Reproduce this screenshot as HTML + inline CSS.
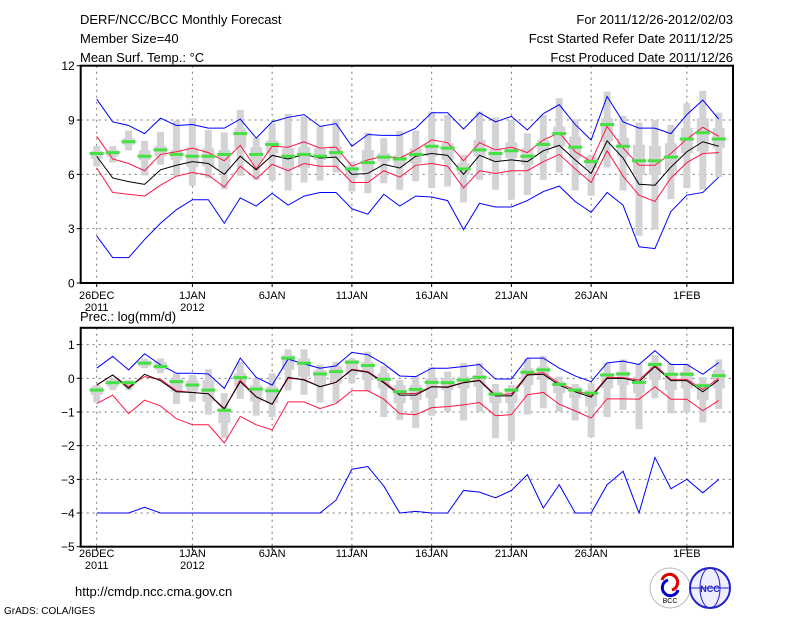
<!DOCTYPE html>
<html><head><meta charset="utf-8"><style>
html,body{margin:0;padding:0;background:#fff;}
svg{display:block;font-family:"Liberation Sans",sans-serif;}
</style></head><body>
<svg id="chart" width="800" height="618" viewBox="0 0 800 618" xmlns="http://www.w3.org/2000/svg">
<g font-size="13" fill="#000">
<text x="80" y="24">DERF/NCC/BCC Monthly Forecast</text>
<text x="80" y="43">Member Size=40</text>
<text x="80" y="62">Mean Surf. Temp.: °C</text>
<text x="733" y="24" text-anchor="end">For 2011/12/26-2012/02/03</text>
<text x="733" y="43" text-anchor="end">Fcst Started Refer Date 2011/12/25</text>
<text x="733" y="62" text-anchor="end">Fcst Produced Date 2011/12/26</text>
<text x="80" y="321">Prec.: log(mm/d)</text>
<text x="75" y="596">http://cmdp.ncc.cma.gov.cn</text>
<text x="4" y="614" font-size="10">GrADS: COLA/IGES</text>
</g>
<g>
<circle cx="670" cy="588" r="20" fill="#fff" stroke="#bbb"/>
<path d="M662 580 a8 8 0 1 1 10 10" fill="none" stroke="#d00" stroke-width="3"/>
<path d="M678 590 a8 8 0 1 1 -10 -10" fill="none" stroke="#00c" stroke-width="3"/>
<text x="670" y="603" font-size="7" text-anchor="middle" fill="#000">BCC</text>
<circle cx="710" cy="588" r="20" fill="#eef" stroke="#22c" stroke-width="2"/>
<ellipse cx="710" cy="588" rx="10" ry="20" fill="none" stroke="#22c"/>
<line x1="690" y1="588" x2="730" y2="588" stroke="#22c"/>
<text x="710" y="592" font-size="9" text-anchor="middle" fill="#22c" font-weight="bold">NCC</text>
</g>
<g id="top"></g>
<g id="bot"></g>
</svg>
<script>
const days = 40;
const dateTicks = ["26DEC","1JAN","6JAN","11JAN","16JAN","21JAN","26JAN","1FEB"];
const dateTickDays = [0,6,11,16,21,26,31,37];
const yearLabels = ["2011","2012"];
const tTicks = [0,3,6,9,12];
const tBlueHi=[10.15,8.9,8.7,8.25,9.1,8.7,8.75,8.55,8.55,9.05,8.0,8.9,9.15,9.3,8.65,8.8,7.55,8.2,8.15,8.15,8.55,9.4,9.4,8.5,9.4,8.9,9.2,8.45,9.35,9.85,8.75,7.9,10.3,8.9,8.55,8.55,8.25,9.3,10.1,9.05];
const tBlueLo=[2.6,1.4,1.4,2.4,3.3,4.05,4.6,4.6,3.3,4.7,4.25,4.95,4.3,4.8,5.0,5.0,4.1,3.8,4.9,4.25,4.8,4.75,4.55,2.95,4.4,4.2,4.2,4.55,5.05,5.35,4.5,3.9,5.0,4.3,2.0,1.9,3.95,4.85,5.0,5.85];
const tRedHi=[8.1,6.85,6.6,6.2,7.1,7.25,7.45,7.2,6.75,7.6,6.3,7.55,7.5,7.8,7.45,7.5,6.45,6.8,7.0,6.9,7.35,7.9,7.75,6.75,7.75,7.35,7.5,7.2,7.9,8.3,7.25,6.7,8.65,7.45,6.5,6.5,7.15,7.95,8.6,8.1];
const tRedLo=[6.35,5.0,4.9,4.8,5.4,5.9,6.1,5.95,5.3,6.45,5.75,6.55,6.2,6.6,6.45,6.45,5.55,5.55,6.2,5.85,6.5,6.6,6.45,5.25,6.2,6.05,6.2,6.2,6.7,7.1,6.3,5.55,7.3,5.9,4.85,4.5,5.8,6.65,7.15,7.2];
const tMean=[7.0,5.8,5.6,5.45,6.25,6.5,6.7,6.6,6.0,7.0,6.25,7.05,6.85,7.1,6.9,6.95,6.0,6.05,6.55,6.35,7.0,7.15,7.05,6.0,7.05,6.7,6.8,6.7,7.3,7.6,6.8,6.05,7.85,6.9,5.45,5.4,6.4,7.25,7.8,7.55];
const tObs=[7.15,7.2,7.8,7.0,7.35,7.1,7.0,7.0,7.1,8.25,7.1,7.65,7.0,7.1,7.0,7.2,6.3,6.65,6.95,6.85,7.1,7.55,7.45,6.3,7.35,7.15,7.3,7.0,7.65,8.25,7.5,6.7,8.75,7.55,6.75,6.75,6.95,7.95,8.3,7.95];
const tWhHi=[7.57,7.57,8.42,7.85,8.35,8.97,9.1,8.46,8.31,9.56,8.0,8.82,9.34,9.19,8.64,9.04,6.71,8.31,8.0,8.4,8.42,9.47,9.28,7.08,9.47,9.15,9.0,8.27,9.28,10.2,9.04,7.08,10.57,9.23,8.86,9.0,8.73,9.93,10.61,9.41];
const tWhLo=[6.43,6.65,7.32,5.94,6.53,5.88,5.37,5.79,5.18,5.92,5.7,5.66,5.11,5.55,5.66,6.1,5.06,4.96,5.51,5.15,5.61,5.24,5.33,4.45,5.7,5.15,4.6,4.87,5.7,6.1,5.11,4.82,6.38,5.11,2.61,2.94,4.63,5.24,5.15,5.85];
const tBoxHi=[7.3,7.35,8.0,7.32,7.57,7.35,7.5,7.44,7.35,8.55,7.5,7.87,7.44,7.5,7.44,7.54,6.43,7.35,7.17,7.08,7.44,7.63,7.72,6.62,7.9,7.44,7.76,7.44,7.9,8.64,8.09,6.99,9.1,8.0,7.63,7.57,7.72,8.55,9.1,8.55];
const tBoxLo=[6.86,6.99,7.63,6.8,6.99,6.8,6.4,6.43,6.25,7.44,6.71,7.17,6.34,6.34,6.8,6.89,5.79,6.16,6.71,6.43,6.62,6.99,6.8,5.97,6.99,6.71,6.89,6.53,7.17,7.54,6.89,6.34,7.81,6.99,5.97,5.97,6.16,7.17,7.26,7.44];
const bTicks = [-5,-4,-3,-2,-1,0,1];
const bBlueHi=[0.3,0.65,0.25,0.73,0.4,0.15,0.15,0.13,-0.3,0.6,0.03,-0.2,0.57,0.43,0.3,0.37,0.77,0.7,0.43,0.07,0.05,0.3,0.3,0.35,0.41,-0.02,-0.02,0.6,0.6,0.3,0.07,-0.1,0.46,0.51,0.41,0.82,0.41,0.41,0.12,0.47];
const bBlueLo=[-4,-4,-4,-3.83,-4,-4,-4,-4,-4,-4,-4,-4,-4,-4,-4,-3.62,-2.7,-2.62,-3.2,-4,-3.95,-4,-4,-3.33,-3.38,-3.55,-3.33,-2.86,-3.85,-3.16,-4,-4,-3.16,-2.76,-4,-2.35,-3.28,-3.0,-3.4,-3.0];
const bRedHi=[-0.2,0.1,-0.25,0.05,-0.03,-0.37,-0.42,-0.46,-0.93,-0.05,-0.55,-0.77,0,-0.03,-0.25,-0.12,0.27,0.2,-0.1,-0.45,-0.45,-0.25,-0.25,-0.12,-0.05,-0.49,-0.46,0.12,0.17,-0.15,-0.35,-0.52,0.03,0.02,-0.05,0.39,-0.03,-0.03,-0.33,0];
const bRedLo=[-0.75,-0.5,-1.05,-0.65,-0.82,-1.2,-1.38,-1.38,-1.92,-1.13,-1.38,-1.53,-0.7,-0.7,-0.9,-0.75,-0.37,-0.37,-0.62,-1.05,-1.08,-0.87,-0.84,-0.79,-0.72,-1.11,-1.08,-0.49,-0.42,-0.77,-0.97,-1.18,-0.61,-0.61,-0.62,-0.25,-0.62,-0.62,-0.96,-0.66];
const bMean=[-0.2,0.1,-0.3,0.12,-0.07,-0.4,-0.42,-0.46,-0.9,-0.1,-0.55,-0.77,0.03,-0.05,-0.25,-0.12,0.25,0.18,-0.13,-0.5,-0.5,-0.25,-0.27,-0.13,-0.07,-0.52,-0.52,0.1,0.12,-0.2,-0.4,-0.56,0,0,-0.1,0.35,-0.07,-0.07,-0.4,-0.05];
const bObs=[-0.35,-0.13,-0.13,0.45,0.35,-0.1,-0.2,-0.35,-0.95,0.02,-0.32,-0.37,0.6,0.45,0.13,0.2,0.48,0.38,-0.03,-0.4,-0.33,-0.12,-0.13,-0.05,0.03,-0.47,-0.35,0.18,0.25,-0.18,-0.35,-0.44,0.1,0.13,-0.12,0.41,0.12,0.12,-0.22,0.08];
const bWhHi=[-0.2,0,-0.05,0.59,0.59,0.15,0.1,0.27,-0.44,0.49,0,0.15,0.86,0.86,0.41,0.49,0.59,0.79,0.36,-0.05,0.07,0.33,0.2,0.46,0.46,-0.17,-0.2,0.59,0.66,0.05,-0.17,-0.15,0.46,0.56,0.44,0.69,0.44,0.44,0.03,0.56];
const bWhLo=[-0.72,-0.35,-0.35,0.3,0.15,-0.76,-0.69,-1.08,-1.78,-0.61,-1.11,-1.15,-0.36,-0.49,-0.72,-0.72,-0.15,-0.39,-1.15,-1.23,-1.48,-1.11,-0.99,-1.25,-0.99,-1.78,-1.87,-1.08,-0.89,-0.99,-1.25,-1.75,-1.15,-0.94,-1.51,-0.59,-1.04,-1.02,-1.31,-0.91];
const bBoxHi=[-0.25,-0.05,-0.07,0.52,0.49,0,-0.05,-0.05,-0.89,0.15,-0.2,-0.25,0.69,0.59,0.25,0.35,0.54,0.49,0.15,-0.2,-0.2,0,0,0.05,0.1,-0.39,-0.3,0.3,0.35,-0.1,-0.25,-0.35,0.15,0.2,0.05,0.49,0.15,0.2,-0.15,0.25];
const bBoxLo=[-0.49,-0.25,-0.25,0.35,0.25,-0.39,-0.39,-0.69,-1.33,-0.25,-0.69,-0.74,0.25,0.05,-0.2,-0.15,0.1,-0.05,-0.3,-0.74,-0.64,-0.59,-0.35,-0.3,-0.25,-0.74,-0.74,-0.2,-0.05,-0.44,-0.59,-0.84,-0.3,-0.2,-0.44,-0.05,-0.35,-0.3,-0.64,-0.3];

const NS="http://www.w3.org/2000/svg";
const X0=80.7, X1=733;
function xDay(i){return 96.7+15.95*i;}
function mk(tag,attrs,parent){const e=document.createElementNS(NS,tag);for(const k in attrs)e.setAttribute(k,attrs[k]);parent.appendChild(e);return e;}

function panel(g,top,bottom,vmin,vmax,ticks,d,labelY){
  const yS=v=>bottom-(v-vmin)/(vmax-vmin)*(bottom-top);
  ticks.forEach(t=>{const y=yS(t);
    const l=mk('line',{x1:X0,x2:X1,y1:y,y2:y,stroke:'#777','stroke-dasharray':'2,4','stroke-width':1},g);
    
    
    const tk=mk('line',{x1:X0-4,x2:X0,y1:y,y2:y,stroke:'#000'},g);
    
    
    const tx=mk('text',{x:X0-6,y:y+4.5,'text-anchor':'end','font-size':12},g);tx.textContent=String(t).replace('-','\u2212');
    
    
  });
  dateTickDays.forEach((dd,k)=>{const x=xDay(dd);
    const l=mk('line',{x1:x,x2:x,y1:top,y2:bottom,stroke:'#777','stroke-dasharray':'2,4'},g);
    
    
    const tk=mk('line',{x1:x,x2:x,y1:bottom,y2:bottom+4,stroke:'#000'},g);
    
    
    const tx=mk('text',{x:x,y:labelY,'text-anchor':'middle','font-size':11},g);tx.textContent=dateTicks[k];
    
    
    if(k<2){const ty=mk('text',{x:x,y:labelY+12,'text-anchor':'middle','font-size':11},g);ty.textContent=yearLabels[k];
      
      }
  });
  for(let i=0;i<days;i++){const x=xDay(i);
    const w=mk('rect',{x:x-3.5,width:7,y:yS(d.whHi[i]),height:yS(d.whLo[i])-yS(d.whHi[i]),fill:'#d3d3d6'},g);
    
    
    const b=mk('rect',{x:x-6,width:12,y:yS(d.boxHi[i]),height:yS(d.boxLo[i])-yS(d.boxHi[i]),fill:'#d3d3d6'},g);
    
    
  }
  const line=(arr,col,name)=>{const p=mk('polyline',{points:arr.map((v,i)=>xDay(i)+','+yS(v)).join(' '),fill:'none',stroke:col,'stroke-width':1},g);
    
    };
  line(d.blueHi,'#0000ff','max-line');line(d.blueLo,'#0000ff','min-line');
  line(d.redHi,'#ff1744','upper-quantile-line');line(d.redLo,'#ff1744','lower-quantile-line');
  line(d.mean,'#000','ensemble-mean-line');
  for(let i=0;i<days;i++){const x=xDay(i);
    const r=mk('rect',{x:x-7,width:14,y:yS(d.obs[i])-1.5,height:3,fill:'#44e044'},g);
    
    
  }
  const f=mk('rect',{x:X0,y:top,width:X1-X0,height:bottom-top,fill:'none',stroke:'#000','stroke-width':2},g);
  
  
}
panel(document.getElementById('top'),65.7,283,0,12,tTicks,
  {blueHi:tBlueHi,blueLo:tBlueLo,redHi:tRedHi,redLo:tRedLo,mean:tMean,obs:tObs,whHi:tWhHi,whLo:tWhLo,boxHi:tBoxHi,boxLo:tBoxLo},299);
panel(document.getElementById('bot'),327.8,546.7,-5,1.5,bTicks,
  {blueHi:bBlueHi,blueLo:bBlueLo,redHi:bRedHi,redLo:bRedLo,mean:bMean,obs:bObs,whHi:bWhHi,whLo:bWhLo,boxHi:bBoxHi,boxLo:bBoxLo},557);
</script>
</body></html>
